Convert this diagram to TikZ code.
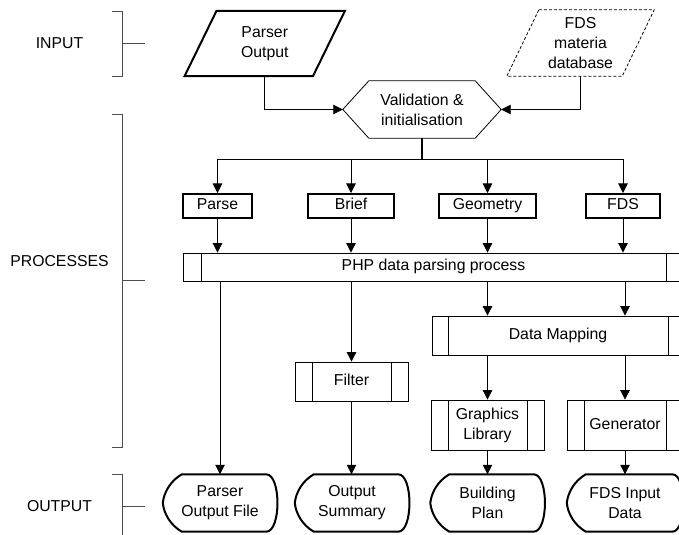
\documentclass[tikz,border=0pt]{standalone}
\usepackage{fontspec}
\setmainfont{Liberation Sans}
\usetikzlibrary{arrows.meta,calc}
\begin{document}
\begin{tikzpicture}[x=1bp,y=-1bp,
  font=\fontsize{15.8bp}{20bp}\selectfont,
  thin/.style={line width=0.8bp},
  thk/.style={line width=2bp},
  brk/.style={line width=0.9bp, draw=black!70},
  arr/.style={thin, -{Triangle[length=9.5bp,width=9.5bp]}},
  lbl/.style={inner sep=0},
  txt/.style={inner sep=0, align=center},
  one/.style={text height=11.5bp, text depth=3.5bp},
  thickbox/.style={draw, thk, inner sep=0, align=center, minimum height=24bp, one},
  pproc/.style={draw, thin, inner sep=0, align=center,
    path picture={\draw[thin]
      ([xshift=#1]path picture bounding box.north west) -- ([xshift=#1]path picture bounding box.south west)
      ([xshift=-#1]path picture bounding box.north east) -- ([xshift=-#1]path picture bounding box.south east);}},
  pproc/.default=17bp
]
\useasboundingbox (0,0) rectangle (679,535);
\clip (0,0) rectangle (679,535);

% side labels and brackets
\node[lbl] (lin) at (59.5,43.5) {INPUT};
\node[lbl] (lproc) at (59.5,261) {PROCESSES};
\node[lbl] (lout) at (59.5,506) {OUTPUT};
\draw[brk] (112,11) -- (122,11) -- (122,76) -- (112,76);
\draw[brk] (122,43.5) -- (145,43.5);
\draw[brk] (112,114) -- (122,114) -- (122,447) -- (112,447);
\draw[brk] (122,280.5) -- (145,280.5);
\draw[brk] (112,474) -- (122,474) -- (122,540);
\draw[brk] (122,506) -- (145,506);

% inputs
\node[txt, minimum width=128bp, minimum height=65bp] (pout) at (264.75,43.5) {Parser\\Output};
\draw[thk] ($(pout.north west)+(16,0)$) -- ($(pout.north east)+(16,0)$) -- ($(pout.south east)+(-16,0)$) -- ($(pout.south west)+(-16,0)$) -- cycle;
\node[txt, minimum width=115bp, minimum height=66bp] (fdsdb) at (580.5,43) {FDS\\materia\\database};
\draw[thin, dash pattern=on 3bp off 2bp] ($(fdsdb.north west)+(16,0)$) -- ($(fdsdb.north east)+(16,0)$) -- ($(fdsdb.south east)+(-16,0)$) -- ($(fdsdb.south west)+(-16,0)$) -- cycle;

% validation hexagon
\node[txt, minimum width=158bp, minimum height=57bp] (hex) at (422,109.5) {Validation \&\\initialisation};
\draw[thin] (hex.west) -- ($(hex.north west)+(26,0)$) -- ($(hex.north east)+(-26,0)$) -- (hex.east) -- ($(hex.south east)+(-26,0)$) -- ($(hex.south west)+(26,0)$) -- cycle;
\draw[arr] (pout.south) |- (hex.west);
\draw[arr] (fdsdb.south) |- (hex.east);

% category boxes
\node[thickbox, minimum width=69bp] (parse) at (217.5,206) {Parse};
\node[thickbox, minimum width=86bp] (brief) at (351,206) {Brief};
\node[thickbox, minimum width=97bp] (geom) at (487.5,206) {Geometry};
\node[thickbox, minimum width=74bp] (fds) at (623,206) {FDS};
\coordinate (split) at (422,159.5);
\draw[line width=1.6bp] (hex.south) -- (split);
\draw[thin] (split -| parse.north) -- (split -| fds.north);
\foreach \b in {parse,brief,geom,fds}{\draw[arr] (split -| \b.north) -- (\b.north);}

% PHP bar
\node[pproc=18bp, one, minimum width=501bp, minimum height=28bp] (php) at (433.5,267) {PHP data parsing process};
\foreach \b in {parse,brief,geom,fds}{\draw[arr] (\b.south) -- (\b.south |- php.north);}

% processes
\node[pproc=16bp, one, minimum width=252bp, minimum height=39bp] (dm) at (558,335.5) {Data Mapping};
\node[pproc, one, minimum width=113bp, minimum height=39bp] (filter) at (351.5,381.5) {Filter};
\node[pproc, minimum width=113bp, minimum height=50bp] (gl) at (487.5,425) {Graphics\\Library};
\node[pproc, one, minimum width=116bp, minimum height=50bp] (gen) at (625,425) {Generator};

% outputs
\node[txt, minimum width=114bp, minimum height=57bp] (pof) at (220,503) {Parser\\Output File};
\node[txt, minimum width=114bp, minimum height=57bp] (osum) at (352,503) {Output\\Summary};
\node[txt, minimum width=114bp, minimum height=57bp] (bplan) at (487.5,503) {Building\\Plan};
\node[txt, minimum width=116bp, minimum height=57bp] (fid) at (625,503) {FDS Input\\Data};
\foreach \n in {pof,osum,bplan,fid}{
  \draw[thk] ($(\n.north west)+(19,0)$) -- ($(\n.north east)+(-11,0)$)
    .. controls ($(\n.north east)+(4,0)$) and ($(\n.south east)+(4,0)$) .. ($(\n.south east)+(-11,0)$)
    -- ($(\n.south west)+(19,0)$)
    .. controls ($(\n.south west)+(7,-7)$) and ($(\n.west)+(1,10)$) .. (\n.west)
    .. controls ($(\n.west)+(1,-10)$) and ($(\n.north west)+(7,7)$) .. cycle;
}

% flows
\draw[arr] (php.south -| pof.north) -- (pof.north);
\draw[arr] (php.south -| filter.north) -- (filter.north);
\draw[arr] (filter.south) -- (filter.south |- osum.north);
\draw[arr] (php.south -| gl.north) -- (gl.north |- dm.north);
\draw[arr] (php.south -| gen.north) -- (gen.north |- dm.north);
\draw[arr] (gl.north |- dm.south) -- (gl.north);
\draw[arr] (gen.north |- dm.south) -- (gen.north);
\draw[arr] (gl.south) -- (gl.south |- bplan.north);
\draw[arr] (gen.south) -- (gen.south |- fid.north);
\end{tikzpicture}
\end{document}
